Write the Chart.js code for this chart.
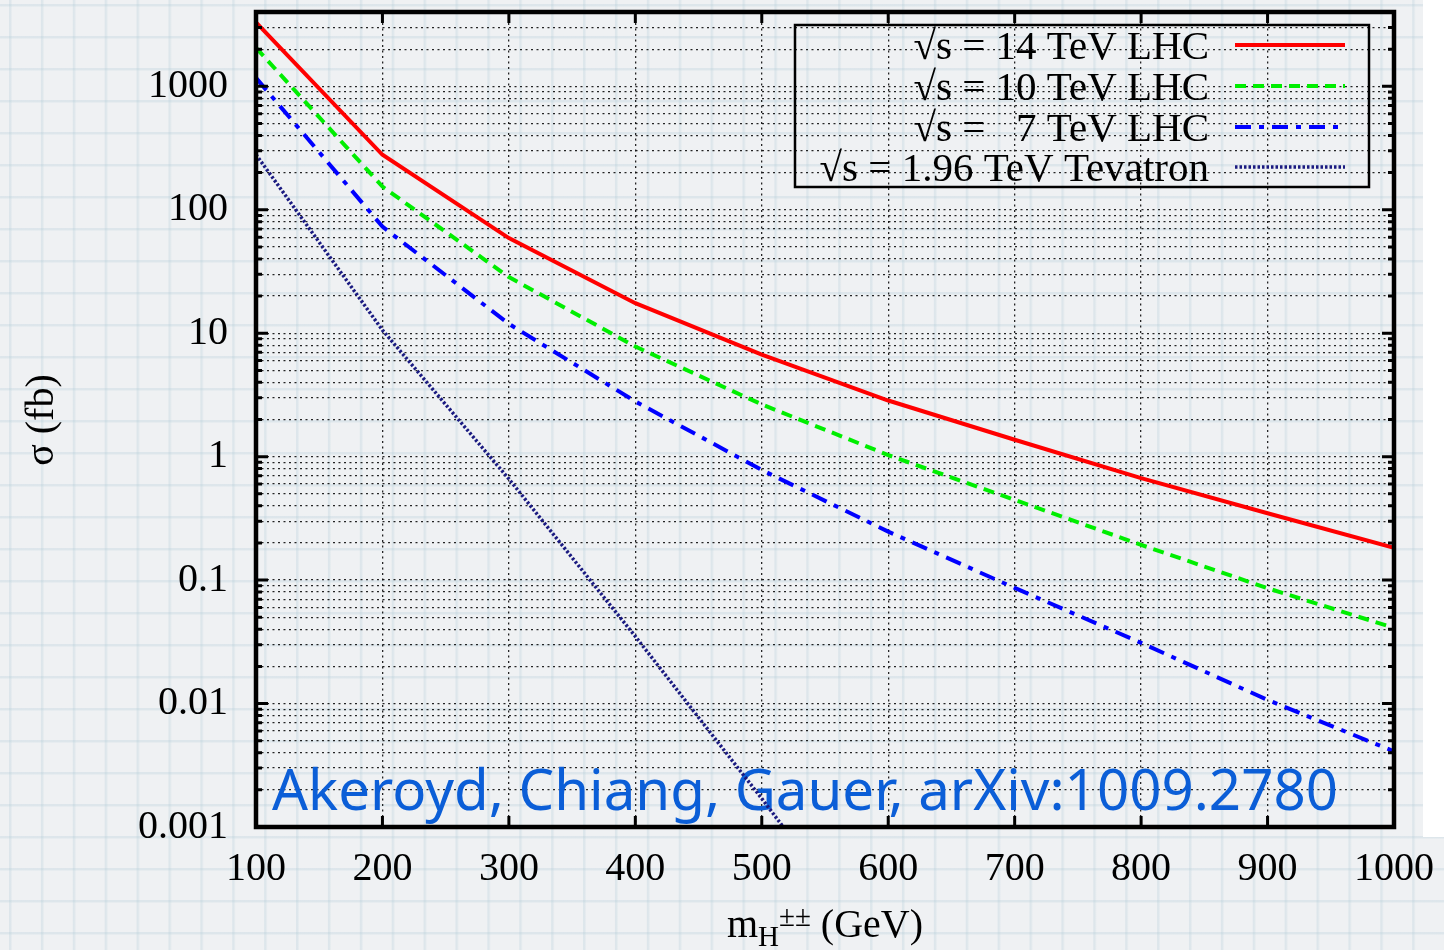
<!DOCTYPE html>
<html>
<head>
<meta charset="utf-8">
<script src="https://cdn.jsdelivr.net/npm/chart.js@4.4.1/dist/chart.umd.min.js"></script>
<style>
  html, body { margin: 0; padding: 0; }
  body {
    width: 1444px; height: 950px; overflow: hidden; position: relative;
    background-color: #eff1f3;
    background-image:
      linear-gradient(to right, rgba(180,205,216,0.30) 0px, rgba(180,205,216,0.30) 2px, rgba(180,205,216,0.0) 3px, transparent 3px),
      linear-gradient(to bottom, rgba(180,205,216,0.30) 0px, rgba(180,205,216,0.30) 2px, rgba(180,205,216,0.0) 3px, transparent 3px);
    background-size: 31.9px 32px;
    background-position: 9px 36px;
  }
  #strip { position: absolute; left: 1423px; top: 0; width: 21px; height: 837px; background: #ffffff; z-index: 0; }
  #c { position: absolute; left: 0; top: 0; z-index: 1; }
</style>
</head>
<body>
<div id="strip"></div>
<canvas id="c" width="1444" height="950"></canvas>
<script>
// ---- data ----
const massGeV   = [100, 200, 300, 400, 500, 600, 700, 800, 900, 1000];
const sigma14   = [3300, 279, 59, 17.5, 6.7, 2.85, 1.37, 0.67, 0.348, 0.183];
const sigma10   = [2050, 154, 28.5, 7.8, 2.65, 1.03, 0.447, 0.193, 0.086, 0.041];
const sigma7    = [1170, 73, 11.9, 2.8, 0.78, 0.247, 0.0865, 0.031, 0.0107, 0.0041];
const massTev   = [100, 200, 300, 400, 500, 517];
const sigmaTev  = [280, 10.6, 0.66, 0.035, 0.0017, 0.001];

const seriesLabels = ['√s = 14 TeV LHC', '√s = 10 TeV LHC', '√s =   7 TeV LHC', '√s = 1.96 TeV Tevatron'];
const xTicks = [100, 200, 300, 400, 500, 600, 700, 800, 900, 1000];
const xTickLabels = ['100', '200', '300', '400', '500', '600', '700', '800', '900', '1000'];
const yMajorTicks = [0.001, 0.01, 0.1, 1, 10, 100, 1000];
const yTickLabels = ['0.001', '0.01', '0.1', '1', '10', '100', '1000'];
const yMin = 0.001, yMax = 4000;
const yTitle = 'σ (fb)';
const xTitleParts = ['m', 'H', '±±', ' (GeV)'];
const watermark = 'Akeroyd, Chiang, Gauer, arXiv:1009.2780';

const SERIF = '"Liberation Serif", "DejaVu Serif", serif';
const FS = 40;
const LEG_FS = 41;

function pts(xs, ys) { return xs.map((x, i) => ({ x: x, y: ys[i] })); }

function logGridValues() {
  const out = [];
  for (const d of yMajorTicks) {
    for (let m = 1; m <= 9; m++) {
      const v = Number((m * d).toPrecision(6));
      if (v >= yMin && v <= yMax) out.push(v);
    }
  }
  return out;
}
const yGrid = logGridValues();
function isMajor(v) { return yMajorTicks.some(t => Math.abs(t - v) / t < 1e-6); }

const datasets = [
  { label: seriesLabels[0], data: pts(massGeV, sigma14), borderColor: '#ff0000', borderWidth: 4, borderDash: [] },
  { label: seriesLabels[1], data: pts(massGeV, sigma10), borderColor: '#00ee00', borderWidth: 4, borderDash: [11, 7] },
  { label: seriesLabels[2], data: pts(massGeV, sigma7), borderColor: '#0000ff', borderWidth: 4, borderDash: [16, 8, 5, 8] },
  { label: seriesLabels[3], data: pts(massTev, sigmaTev), borderColor: '#1a1a80', borderWidth: 3.5, borderDash: [2.5, 2] }
].map(d => Object.assign(d, { pointRadius: 0, tension: 0, fill: false, borderCapStyle: 'butt' }));

const decorPlugin = {
  id: 'decor',
  beforeDatasetsDraw(chart) {
    const ctx = chart.ctx;
    ctx.save();
    ctx.font = '100px "Noto Sans", "Liberation Sans", sans-serif';
    const w = ctx.measureText(watermark).width;
    const size = 100 * 1066 / w;
    ctx.font = size.toFixed(2) + 'px "Noto Sans", "Liberation Sans", sans-serif';
    ctx.fillStyle = '#0b5ed7';
    ctx.textAlign = 'left';
    ctx.textBaseline = 'alphabetic';
    ctx.fillText(watermark, 272, 810);
    ctx.restore();
  },
  afterDraw(chart) {
    const ctx = chart.ctx;
    const a = chart.chartArea;
    const xs = chart.scales.x, ys = chart.scales.y;
    ctx.save();
    ctx.strokeStyle = '#000';
    ctx.lineWidth = 3;
    ctx.beginPath();
    for (const v of yGrid) {
      const py = ys.getPixelForValue(v);
      const len = isMajor(v) ? 12 : 6;
      ctx.moveTo(a.left, py); ctx.lineTo(a.left + len, py);
      ctx.moveTo(a.right, py); ctx.lineTo(a.right - len, py);
    }
    for (const v of xTicks) {
      const px = xs.getPixelForValue(v);
      ctx.moveTo(px, a.bottom); ctx.lineTo(px, a.bottom - 11);
      ctx.moveTo(px, a.top); ctx.lineTo(px, a.top + 11);
    }
    ctx.stroke();
    ctx.lineWidth = 4.5;
    ctx.strokeRect(a.left, a.top, a.right - a.left, a.bottom - a.top);

    // legend
    ctx.lineWidth = 2.5;
    ctx.strokeRect(795, 25, 574, 162);
    ctx.font = LEG_FS + 'px ' + SERIF;
    ctx.fillStyle = '#000';
    ctx.textAlign = 'right';
    ctx.textBaseline = 'alphabetic';
    const rows = [45, 86, 127, 167];
    chart.data.datasets.forEach((ds, i) => {
      const ry = rows[i];
      ctx.fillText(ds.label, 1209, ry + 14);
      ctx.save();
      ctx.strokeStyle = ds.borderColor;
      ctx.lineWidth = ds.borderWidth;
      ctx.setLineDash(ds.borderDash);
      ctx.lineCap = 'butt';
      ctx.beginPath();
      ctx.moveTo(1235, ry); ctx.lineTo(1345, ry);
      ctx.stroke();
      ctx.restore();
    });

    // y title
    ctx.save();
    ctx.translate(42, 420);
    ctx.rotate(-Math.PI / 2);
    ctx.textAlign = 'center';
    ctx.textBaseline = 'middle';
    ctx.font = FS + 'px ' + SERIF;
    ctx.fillText(yTitle, 0, 0);
    ctx.restore();

    // x title with sub/superscript
    const bigF = FS + 'px ' + SERIF, smallF = '29px ' + SERIF;
    ctx.textAlign = 'left';
    ctx.font = bigF; const w0 = ctx.measureText(xTitleParts[0]).width;
    ctx.font = smallF; const w1 = ctx.measureText(xTitleParts[1]).width;
    const w2 = ctx.measureText(xTitleParts[2]).width;
    ctx.font = bigF; const w3 = ctx.measureText(xTitleParts[3]).width;
    const total = w0 + w1 + w2 + w3;
    let x0 = (a.left + a.right) / 2 - total / 2;
    const base = 937;
    ctx.font = bigF; ctx.fillText(xTitleParts[0], x0, base); x0 += w0;
    ctx.font = smallF; ctx.fillText(xTitleParts[1], x0, base + 9); x0 += w1;
    ctx.fillText(xTitleParts[2], x0, base - 11); x0 += w2;
    ctx.font = bigF; ctx.fillText(xTitleParts[3], x0, base);
    ctx.restore();
  }
};

new Chart(document.getElementById('c'), {
  type: 'line',
  data: { datasets: datasets },
  options: {
    responsive: false,
    animation: false,
    devicePixelRatio: 1,
    layout: { padding: { top: 12, right: 50, bottom: 0, left: 0 } },
    plugins: { legend: { display: false }, tooltip: { enabled: false } },
    scales: {
      x: {
        type: 'linear', position: 'bottom', min: 100, max: 1000,
        afterBuildTicks: s => { s.ticks = xTicks.map(v => ({ value: v })); },
        afterFit: s => { s.height = 123; s.paddingLeft = 0; s.paddingRight = 0; },
        ticks: {
          autoSkip: false, maxRotation: 0, padding: 18, color: '#000',
          font: { family: SERIF, size: FS },
          callback: v => { const i = xTicks.indexOf(v); return i >= 0 ? xTickLabels[i] : ''; }
        },
        grid: {
          drawTicks: false,
          color: c => (c.tick && (c.tick.value === 100 || c.tick.value === 1000)) ? 'rgba(0,0,0,0)' : 'rgba(0,0,0,0.85)',
          lineWidth: 1.3
        },
        border: { display: false, dash: [2, 3.5] }
      },
      y: {
        type: 'logarithmic', position: 'left', min: yMin, max: yMax,
        afterBuildTicks: s => { s.ticks = yGrid.map(v => ({ value: v, major: isMajor(v) })); },
        afterFit: s => { s.width = 256; s.paddingTop = 0; s.paddingBottom = 0; },
        ticks: {
          autoSkip: false, padding: 28, color: '#000',
          font: { family: SERIF, size: FS },
          callback: v => { const i = yMajorTicks.findIndex(t => Math.abs(t - v) / t < 1e-6); return i >= 0 ? yTickLabels[i] : ''; }
        },
        grid: {
          drawTicks: false,
          color: c => (c.tick && (Math.abs(c.tick.value - yMin) < 1e-9 || c.tick.value >= yMax)) ? 'rgba(0,0,0,0)' : 'rgba(0,0,0,0.85)',
          lineWidth: 1.3
        },
        border: { display: false, dash: [2, 3.5] }
      }
    }
  },
  plugins: [decorPlugin]
});
</script>
</body>
</html>
